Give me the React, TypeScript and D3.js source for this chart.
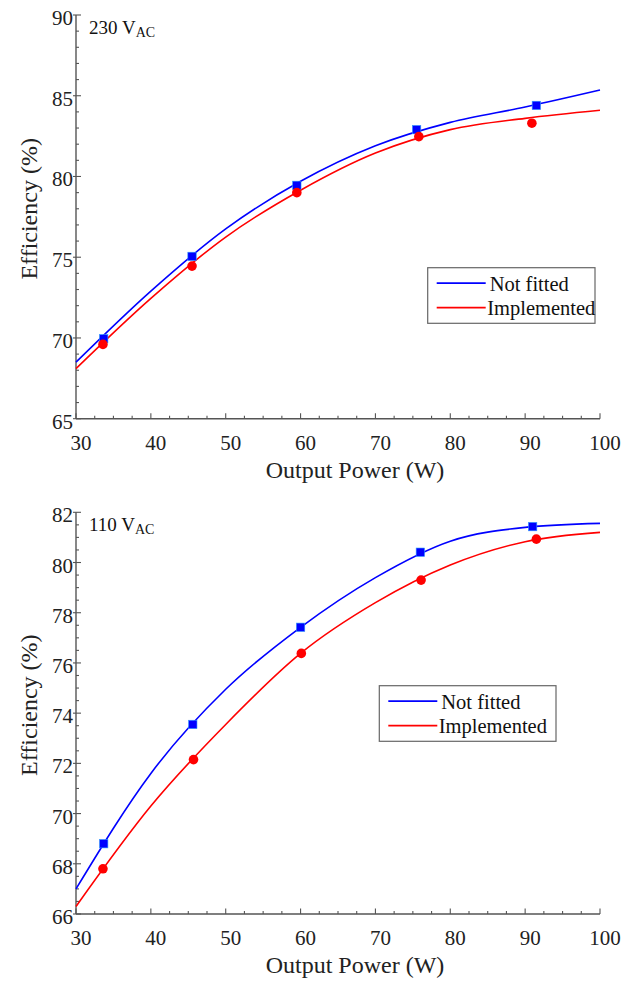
import React from "react";
import * as d3 from "d3";

// ---- data ----
const powerTicks = [30, 40, 50, 60, 70, 80, 90, 100];

// 230 VAC measured points
const p230NotFittedX = [33.7, 45.5, 59.5, 75.5, 91.5];
const p230NotFittedY = [69.95, 75.05, 79.45, 82.9, 84.4];
const p230ImplX = [33.6, 45.5, 59.5, 75.8, 90.9];
const p230ImplY = [69.6, 74.45, 79.0, 82.47, 83.3];
// fitted curves (read at x = 30..100)
const fitX = [30, 40, 50, 60, 70, 80, 90, 100];
const fit230NotFitted = [68.5, 72.9, 76.75, 79.7, 81.9, 83.35, 84.3, 85.35];
const fit230Impl = [68.1, 72.45, 76.25, 79.15, 81.45, 82.9, 83.6, 84.1];

// 110 VAC measured points
const p110NotFittedX = [33.7, 45.6, 60.0, 76.0, 91.0];
const p110NotFittedY = [68.8, 73.55, 77.42, 80.41, 81.43];
const p110ImplX = [33.6, 45.7, 60.1, 76.1, 91.5];
const p110ImplY = [67.8, 72.15, 76.38, 79.3, 80.93];
const fit110NotFitted = [67.0, 71.6, 74.95, 77.42, 79.4, 80.85, 81.4, 81.56];
const fit110Impl = [66.3, 70.3, 73.55, 76.38, 78.4, 79.9, 80.83, 81.2];

const legendLabels = ["Not fitted", "Implemented"];
const BLUE = "#0000ff";
const RED = "#ff0000";
const FONT = "'Liberation Serif', 'Times New Roman', serif";

type PanelProps = {
  top: number;
  bottom: number;
  yDomain: [number, number];
  yMajor: number;
  yMinor: number;
  label: string;
  sqX: number[];
  sqY: number[];
  ciX: number[];
  ciY: number[];
  fitBlue: number[];
  fitRed: number[];
  legend: { x: number; y: number; w: number; h: number };
};

const LEFT = 76;
const RIGHT = 600;

function Panel(p: PanelProps) {
  const x = d3.scaleLinear().domain([30, 100]).range([LEFT, RIGHT]);
  const y = d3.scaleLinear().domain(p.yDomain).range([p.bottom, p.top]);
  const line = d3
    .line<[number, number]>()
    .x((d) => x(d[0]))
    .y((d) => y(d[1]))
    .curve(d3.curveMonotoneX);
  const blueData = fitX.map((v, i) => [v, p.fitBlue[i]] as [number, number]);
  const redData = fitX.map((v, i) => [v, p.fitRed[i]] as [number, number]);
  const xMinor = d3.range(30, 100.001, 2.5);
  const yMinorTicks = d3.range(p.yDomain[0], p.yDomain[1] + 0.001, p.yMinor);
  const yMajorTicks = d3.range(p.yDomain[0], p.yDomain[1] + 0.001, p.yMajor);
  const axisColor = "#555";
  const lg = p.legend;
  return (
    <g>
      {xMinor.map((t) => (
        <line key={"xm" + t} x1={x(t)} x2={x(t)} y1={p.bottom} y2={p.bottom - (t % 10 === 0 ? 5.5 : 3)} stroke={axisColor} strokeWidth={1.1} />
      ))}
      {yMinorTicks.map((t) => {
        const k = (t - p.yDomain[0]) / p.yMajor;
        const major = Math.abs(k - Math.round(k)) < 1e-6;
        return (
          <line key={"ym" + t} x1={major ? LEFT - 3 : LEFT} x2={LEFT + (major ? 5 : 3)} y1={y(t)} y2={y(t)} stroke={axisColor} strokeWidth={1.1} />
        );
      })}
      <line x1={LEFT} x2={RIGHT} y1={p.bottom} y2={p.bottom} stroke={axisColor} strokeWidth={1.4} />
      <line x1={LEFT} x2={LEFT} y1={p.top} y2={p.bottom} stroke={axisColor} strokeWidth={1.4} />
      {powerTicks.map((t) => (
        <text key={"xl" + t} x={x(t) + 5} y={p.bottom + 31} textAnchor="middle" fontSize={21} fontFamily={FONT} fill="#222">
          {t}
        </text>
      ))}
      {yMajorTicks.map((t) => (
        <text key={"yl" + t} x={LEFT - 3} y={y(t) + 10} textAnchor="end" fontSize={21} fontFamily={FONT} fill="#222">
          {t}
        </text>
      ))}
      <text x={355} y={p.bottom + 59} textAnchor="middle" fontSize={24} fontFamily={FONT} fill="#222">
        Output Power (W)
      </text>
      <text
        transform={`translate(37, ${(p.top + p.bottom) / 2 - 8}) rotate(-90)`}
        textAnchor="middle"
        fontSize={24}
        fontFamily={FONT}
        fill="#222"
      >
        Efficiency (%)
      </text>
      <text x={LEFT + 13} y={p.top + 19} fontSize={19} fontFamily={FONT} fill="#111">
        {p.label} V
        <tspan fontSize={14} dy={3}>AC</tspan>
      </text>
      <path d={line(blueData) || ""} fill="none" stroke={BLUE} strokeWidth={1.6} />
      <path d={line(redData) || ""} fill="none" stroke={RED} strokeWidth={1.6} />
      {p.sqX.map((v, i) => (
        <rect key={"s" + i} x={x(v) - 4.2} y={y(p.sqY[i]) - 4.2} width={8.4} height={8.4} fill={BLUE} stroke="#3399ff" strokeWidth={0.6} />
      ))}
      {p.ciX.map((v, i) => (
        <circle key={"c" + i} cx={x(v)} cy={y(p.ciY[i])} r={4.8} fill={RED} />
      ))}
      <rect x={lg.x} y={lg.y} width={lg.w} height={lg.h} fill="white" stroke="#666" strokeWidth={1.2} />
      <line x1={lg.x + 9} x2={lg.x + 58} y1={lg.y + 15.5} y2={lg.y + 15.5} stroke={BLUE} strokeWidth={1.8} />
      <line x1={lg.x + 9} x2={lg.x + 58} y1={lg.y + 40} y2={lg.y + 40} stroke={RED} strokeWidth={1.8} />
      <text x={lg.x + 62} y={lg.y + 23} fontSize={20.5} fontFamily={FONT} fill="#111">
        {legendLabels[0]}
      </text>
      <text x={lg.x + 59.5} y={lg.y + 47.5} fontSize={20.5} fontFamily={FONT} fill="#111">
        {legendLabels[1]}
      </text>
    </g>
  );
}

export default function App() {
  return (
    <svg width={635} height={983} style={{ position: "absolute", left: 0, top: 0, background: "white" }}>
      <rect width={635} height={983} fill="white" />
      <Panel
        top={15}
        bottom={418.7}
        yDomain={[65, 90]}
        yMajor={5}
        yMinor={1}
        label="230"
        sqX={p230NotFittedX}
        sqY={p230NotFittedY}
        ciX={p230ImplX}
        ciY={p230ImplY}
        fitBlue={fit230NotFitted}
        fitRed={fit230Impl}
        legend={{ x: 427.7, y: 267.7, w: 167.3, h: 55.6 }}
      />
      <Panel
        top={512.3}
        bottom={914}
        yDomain={[66, 82]}
        yMajor={2}
        yMinor={0.5}
        label="110"
        sqX={p110NotFittedX}
        sqY={p110NotFittedY}
        ciX={p110ImplX}
        ciY={p110ImplY}
        fitBlue={fit110NotFitted}
        fitRed={fit110Impl}
        legend={{ x: 379.3, y: 685.7, w: 176.7, h: 55.6 }}
      />
    </svg>
  );
}
